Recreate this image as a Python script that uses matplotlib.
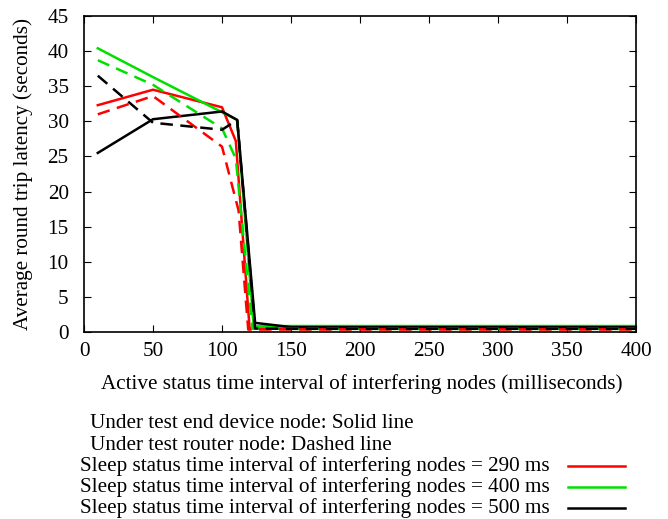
import matplotlib
matplotlib.use("Agg")
import matplotlib.pyplot as plt
from matplotlib.lines import Line2D

plt.rcParams['font.family'] = ['Liberation Serif', 'DejaVu Serif']
plt.rcParams['font.size'] = 15.2

# Data
x_ed_290 = [10, 50, 100, 110, 120, 150, 200, 250, 300, 350, 400]
y_ed_290 = [32.3, 34.5, 32.0, 27.2, 0.5, 0.5, 0.5, 0.5, 0.5, 0.5, 0.5]
x_ed_400 = [10, 50, 100, 111, 123, 150, 200, 250, 300, 350, 400]
y_ed_400 = [40.4, 36.3, 31.3, 30.2, 0.8, 0.85, 0.85, 0.85, 0.85, 0.85, 0.85]
x_ed_500 = [10, 50, 100, 111, 124, 150, 200, 250, 300, 350, 400]
y_ed_500 = [25.5, 30.3, 31.4, 30.2, 1.3, 0.7, 0.7, 0.7, 0.7, 0.7, 0.7]

x_rt_290 = [10, 50, 100, 112, 119, 150, 200, 250, 300, 350, 400]
y_rt_290 = [31.0, 33.6, 26.4, 17.3, 0.35, 0.35, 0.35, 0.35, 0.35, 0.35, 0.35]
x_rt_400 = [10, 50, 100, 110, 122, 150, 200, 250, 300, 350, 400]
y_rt_400 = [38.7, 35.2, 29.0, 24.7, 0.5, 0.45, 0.45, 0.45, 0.45, 0.45, 0.45]
x_rt_500 = [10, 50, 100, 111, 124, 150, 200, 250, 300, 350, 400]
y_rt_500 = [36.5, 29.8, 28.8, 30.2, 0.5, 0.45, 0.45, 0.45, 0.45, 0.45, 0.45]

x_ticks = [0, 50, 100, 150, 200, 250, 300, 350, 400]
y_ticks = [0, 5, 10, 15, 20, 25, 30, 35, 40, 45]

legend_notes = ["Under test end device node: Solid line",
                "Under test router node: Dashed line"]
legend_labels = ["Sleep status time interval of interfering nodes = 290 ms",
                 "Sleep status time interval of interfering nodes = 400 ms",
                 "Sleep status time interval of interfering nodes = 500 ms"]
colors = ["#ff0000", "#00e000", "#000000"]

W, H = 668, 519
fig = plt.figure(figsize=(W / 100, H / 100), dpi=100)
ax = fig.add_axes([84 / W, 1 - 332 / H, (636 - 84) / W, (332 - 16) / H])

lw = 1.8
dash = (5, 3)
solid_sets = [(x_ed_290, y_ed_290), (x_ed_400, y_ed_400), (x_ed_500, y_ed_500)]
dashed_sets = [(x_rt_290, y_rt_290), (x_rt_400, y_rt_400), (x_rt_500, y_rt_500)]
for (xs, ys), c in zip(solid_sets, colors):
    ax.plot(xs, ys, color=c, lw=lw)
for (xs, ys), c in zip(dashed_sets, colors):
    ax.plot(xs, ys, color=c, lw=lw, linestyle=(0, dash))

ax.set_xlim(0, 400)
ax.set_ylim(0, 45)
ax.set_xticks(x_ticks)
ax.set_yticks(y_ticks)
ax.tick_params(axis='both', direction='in', length=5, width=0.8, top=True,
               right=True, labelsize=15.2)
ax.tick_params(axis='x', pad=7)
ax.tick_params(axis='y', pad=11)
for s in ax.spines.values():
    s.set_linewidth(1.2)

fs = 15.2
fig.text(362 / W, 1 - 384 / H,
         "Active status time interval of interfering nodes (milliseconds)",
         fontsize=fs, ha='center', va='center')
fig.text(23 / W, 1 - 174 / H, "Average round trip latency (seconds)",
         fontsize=fs, ha='center', va='center', rotation=90)

# Legend block
fig.text(90 / W, 1 - 424 / H, legend_notes[0], fontsize=fs, va='center', ha='left')
fig.text(90 / W, 1 - 445 / H, legend_notes[1], fontsize=fs, va='center', ha='left')
for i, (lab, c) in enumerate(zip(legend_labels, colors)):
    yc = 1 - (466 + 21 * i) / H
    fig.text(80 / W, yc, lab, fontsize=fs, va='center', ha='left')
    fig.add_artist(Line2D([568 / W, 625 / W], [yc, yc], color=c, lw=lw,
                          transform=fig.transFigure))

fig.savefig("out.png", dpi=100)
